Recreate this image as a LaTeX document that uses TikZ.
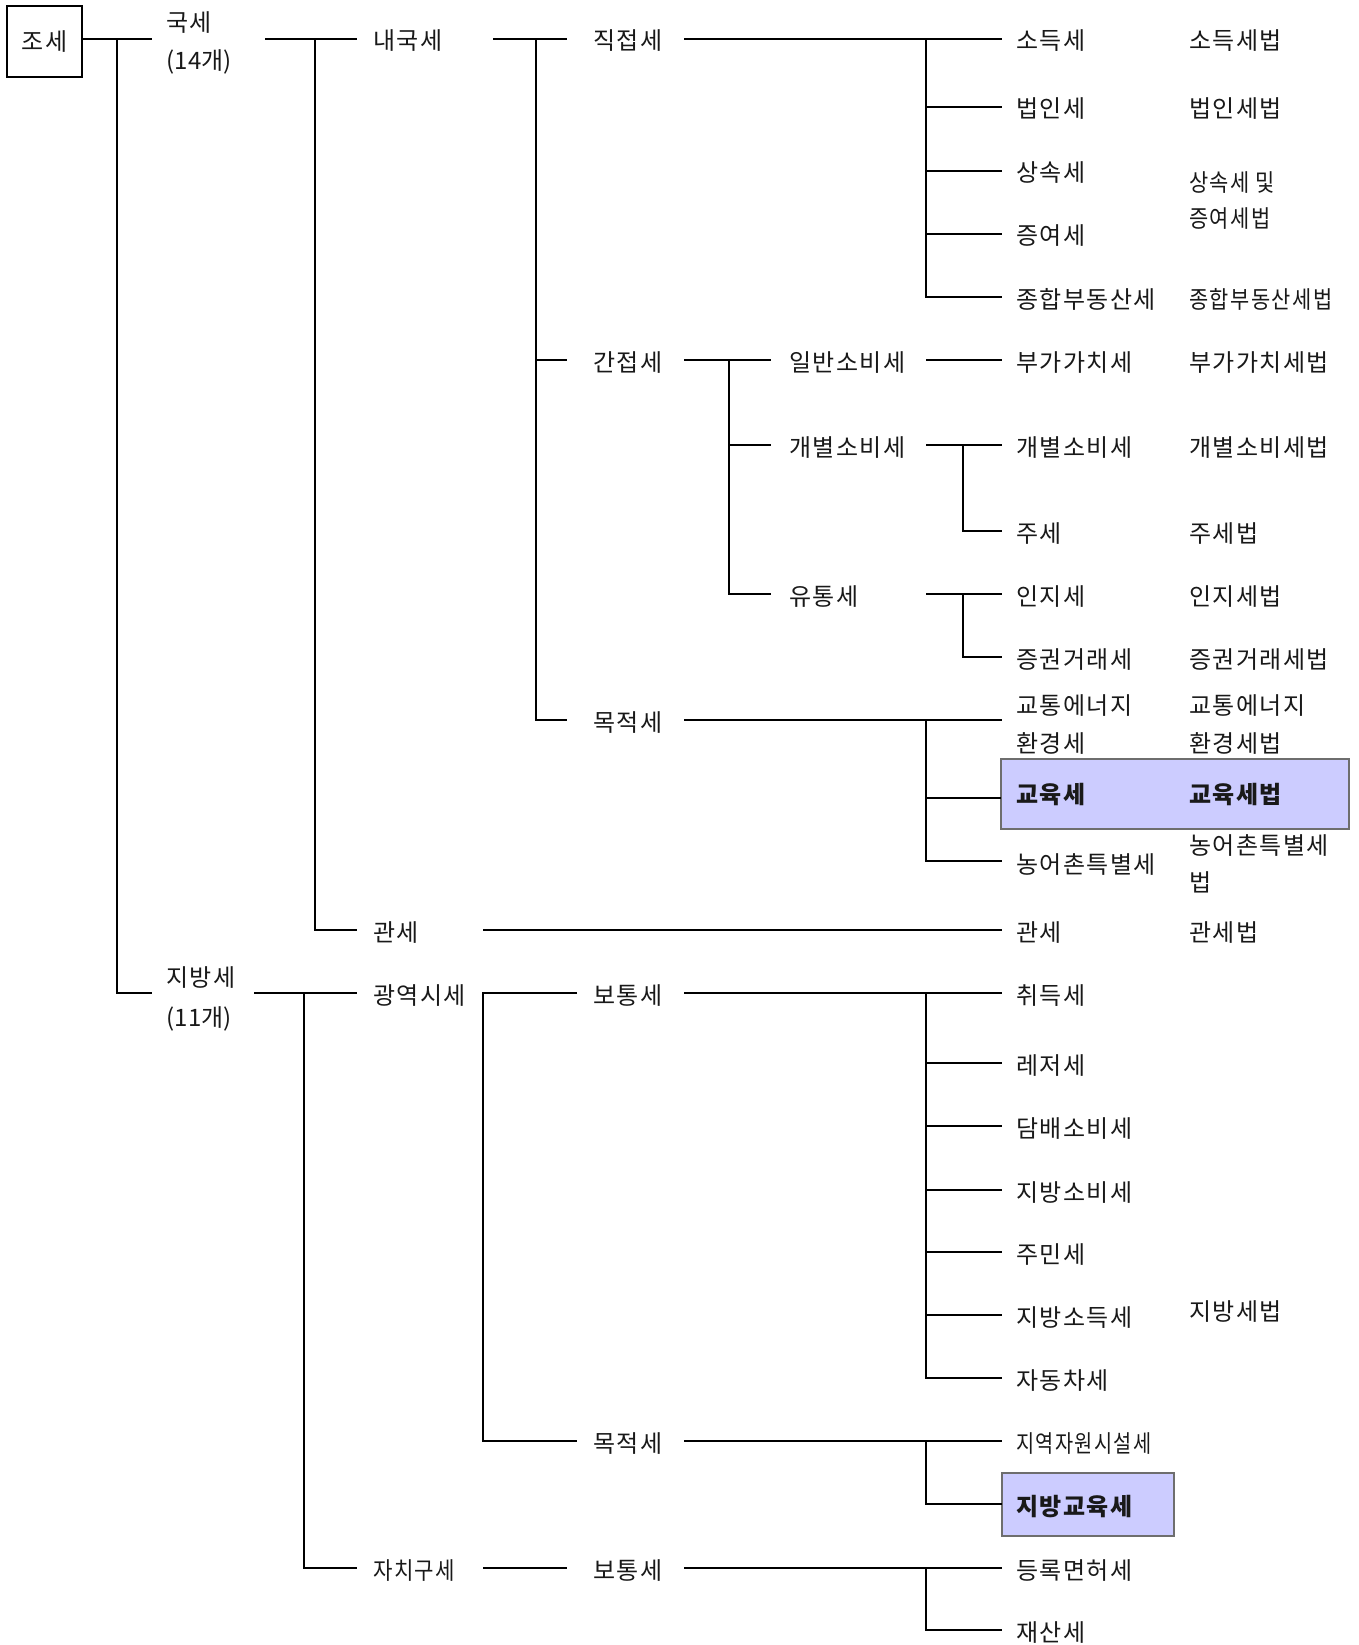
\documentclass[tikz,border=0pt]{standalone}
\usepackage{fontspec}
\setmainfont{Noto Sans CJK KR}[LetterSpace=6]
\newfontfamily\plainfont{Noto Sans CJK KR}[LetterSpace=1]
\newfontfamily\condfont{Noto Sans CJK KR}[FakeStretch=0.82,LetterSpace=6]
\newfontfamily\semicond{Noto Sans CJK KR}[FakeStretch=0.87,LetterSpace=6]
\newfontfamily\midcond{Noto Sans CJK KR}[FakeStretch=0.88,LetterSpace=6]
\definecolor{hibox}{RGB}{204,204,255}
\definecolor{hiborder}{RGB}{110,110,110}
\definecolor{txt}{RGB}{25,25,25}
\begin{document}
\begin{tikzpicture}[x=1pt,y=-1pt,
  lbl/.style={anchor=west,inner sep=0pt,text height=19pt,text depth=3pt,
    font=\fontsize{24}{29}\selectfont,text=txt},
  bl/.style={lbl,font=\fontsize{24}{29}\selectfont\bfseries},
  ln/.style={line width=1.1pt,black},
  hb/.style={fill=hibox,draw=hiborder,line width=1.2pt}]
\useasboundingbox (0,0) rectangle (1358,1645);
\fill[white] (0,0) rectangle (1358,1645);
% highlight boxes
\path[hb] (1001,759) rectangle (1349,829);
\path[hb] (1002,1473) rectangle (1174,1536);
% root
\node[draw,line width=1.1pt,minimum width=75pt,minimum height=71pt,inner sep=0pt,
  font=\fontsize{24}{29}\selectfont,text=txt] (root) at (44.5,41.5) {조세};
% level 1
\node[lbl] (guk) at (166,24) {국세};
\node[lbl] (gukn) at (166,62) {\plainfont (14개)};
\node[lbl] (jib) at (166,978) {지방세};
\node[lbl] (jibn) at (166,1018) {\plainfont (11개)};
% level 2
\node[lbl] (naeguk) at (373,42) {내국세};
\node[lbl] (gwan) at (373,933) {관세};
\node[lbl] (gwangyeok) at (373,996) {광역시세};
\node[lbl] (jachigu) at (373,1571) {\midcond 자치구세};
% level 3
\node[lbl] (jikjeop) at (593,42) {직접세};
\node[lbl] (ganjeop) at (593,363) {간접세};
\node[lbl] (mokjeok) at (593,723) {목적세};
\node[lbl] (botong) at (593,996) {보통세};
\node[lbl] (mokjeok2) at (593,1444) {목적세};
\node[lbl] (botong2) at (593,1571) {보통세};
% level 4
\node[lbl] (ilban) at (789,363) {일반소비세};
\node[lbl] (gaebyeol) at (789,448) {개별소비세};
\node[lbl] (yutong) at (789,597) {유통세};
% leaves
\node[lbl] (t1) at (1016,42) {소득세};
\node[lbl] (t2) at (1016,110) {법인세};
\node[lbl] (t3) at (1016,174) {상속세};
\node[lbl] (t4) at (1016,237) {증여세};
\node[lbl] (t5) at (1016,300) {종합부동산세};
\node[lbl] (t6) at (1016,363) {부가가치세};
\node[lbl] (t7) at (1016,448) {개별소비세};
\node[lbl] (t8) at (1016,534) {주세};
\node[lbl] (t9) at (1016,597) {인지세};
\node[lbl] (t10) at (1016,660) {증권거래세};
\node[lbl] (t11) at (1016,706) {교통에너지};
\node[lbl] (t11b) at (1016,744) {환경세};
\node[bl] (t12) at (1016,795) {교육세};
\node[lbl] (t13) at (1016,865) {농어촌특별세};
\node[lbl] (t14) at (1016,933) {관세};
\node[lbl] (t15) at (1016,996) {취득세};
\node[lbl] (t16) at (1016,1066) {레저세};
\node[lbl] (t17) at (1016,1129) {담배소비세};
\node[lbl] (t18) at (1016,1193) {지방소비세};
\node[lbl] (t19) at (1016,1255) {주민세};
\node[lbl] (t20) at (1016,1318) {지방소득세};
\node[lbl] (t21) at (1016,1381) {자동차세};
\node[lbl] (t22) at (1016,1444) {\condfont 지역자원시설세};
\node[bl] (t23) at (1016,1507) {지방교육세};
\node[lbl] (t24) at (1016,1571) {등록면허세};
\node[lbl] (t25) at (1016,1633) {재산세};
% laws
\node[lbl] (l1) at (1189,42) {소득세법};
\node[lbl] (l2) at (1189,110) {법인세법};
\node[lbl] (l3) at (1189,184) {\semicond 상속세 및};
\node[lbl] (l3b) at (1189,220) {\semicond 증여세법};
\node[lbl] (l5) at (1189,300) {\semicond 종합부동산세법};
\node[lbl] (l6) at (1189,363) {부가가치세법};
\node[lbl] (l7) at (1189,448) {개별소비세법};
\node[lbl] (l8) at (1189,534) {주세법};
\node[lbl] (l9) at (1189,597) {인지세법};
\node[lbl] (l10) at (1189,660) {증권거래세법};
\node[lbl] (l11) at (1189,706) {교통에너지};
\node[lbl] (l11b) at (1189,744) {환경세법};
\node[bl] (l12) at (1189,795) {교육세법};
\node[lbl] (l13) at (1189,846) {농어촌특별세};
\node[lbl] (l13b) at (1189,883) {법};
\node[lbl] (l14) at (1189,933) {관세법};
\node[lbl] (l15) at (1189,1312) {지방세법};
% connectors
\coordinate (a0) at (152,39);
\coordinate (a1) at (152,993);
\draw[ln] (root.east |- a0) -- (a0);
\draw[ln] (117,39) |- (a1);
\coordinate (b0) at (265,39);
\coordinate (b1) at (357,39);
\draw[ln] (b0) -- (b1);
\draw[ln] (315,39) |- (357,930);
\draw[ln] (493,39) -- (567,39);
\draw[ln] (536,39) |- (567,720);
\draw[ln] (536,360) -- (567,360);
% 직접세
\draw[ln] (684,39) -- (1002,39);
\draw[ln] (926,39) |- (1002,297);
\foreach \yy in {107,171,234} \draw[ln] (926,\yy) -- (1002,\yy);
% 간접세
\draw[ln] (684,360) -- (771,360);
\draw[ln] (729,360) |- (771,594);
\draw[ln] (729,445) -- (771,445);
\draw[ln] (926,360) -- (1002,360);
\draw[ln] (926,445) -- (1002,445);
\draw[ln] (963,445) |- (1002,531);
\draw[ln] (926,594) -- (1002,594);
\draw[ln] (963,594) |- (1002,657);
% 목적세
\draw[ln] (684,720) -- (1002,720);
\draw[ln] (926,720) |- (1002,861);
\draw[ln] (926,798) -- (1001,798);
% 관세
\draw[ln] (483,930) -- (1002,930);
% 지방세
\draw[ln] (254,993) -- (357,993);
\draw[ln] (304,993) |- (357,1568);
\draw[ln] (577,993) -- (483,993) |- (577,1441);
\draw[ln] (684,993) -- (1002,993);
\draw[ln] (926,993) |- (1002,1378);
\foreach \yy in {1063,1126,1190,1252,1315} \draw[ln] (926,\yy) -- (1002,\yy);
\draw[ln] (684,1441) -- (1002,1441);
\draw[ln] (926,1441) |- (1002,1504);
\draw[ln] (483,1568) -- (567,1568);
\draw[ln] (684,1568) -- (1002,1568);
\draw[ln] (926,1568) |- (1002,1630);
\end{tikzpicture}
\end{document}
